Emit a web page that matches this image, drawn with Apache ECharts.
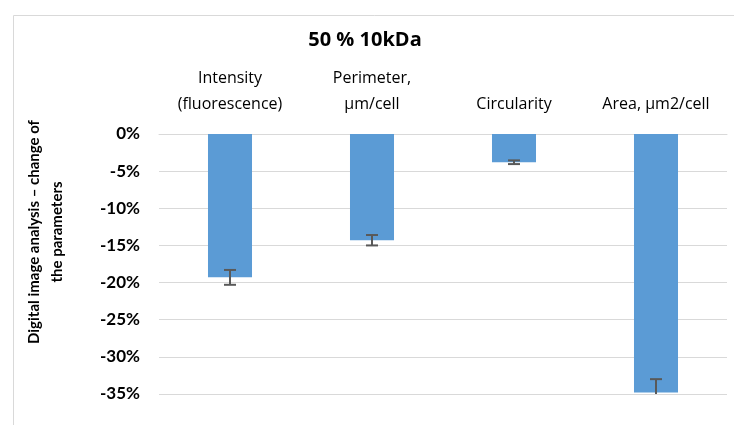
<!DOCTYPE html>
<html>
<head>
<meta charset="utf-8">
<script src="https://cdn.jsdelivr.net/npm/echarts@6/dist/echarts.min.js"></script>
<style>
  html, body { margin: 0; padding: 0; background: #fff; }
  #chart { width: 734px; height: 425px; }
</style>
</head>
<body>
<div id="chart"></div>
<script>
// categories and values (percent change)
var categories = ['Intensity\n(fluorescence)', 'Perimeter,\nµm/cell', 'Circularity', 'Area, µm2/cell'];
var changes = [-19.3, -14.3, -3.8, -34.8];
var errors = [1.0, 0.7, 0.25, 1.8];
var yTicks = { min: -35, max: 0, step: 5 };

var FONT = '"Open Sans", sans-serif';
var FONT_B = 'Lato, sans-serif';
var myChart = echarts.init(document.getElementById('chart'));

var errData = changes.map(function (v, i) { return [i, v - errors[i], v + errors[i]]; });

var option = {
    animation: false,
    title: {
        text: '50 % 10kDa',
        left: 360,
        top: 25,
        textAlign: 'center',
        textStyle: { fontFamily: FONT, fontSize: 20, fontWeight: 'bold', color: '#000' }
    },
    graphic: [{
        type: 'rect',
        shape: { x: 13.5, y: 15.5, width: 740, height: 430 },
        style: { fill: 'none', stroke: '#d9d9d9', lineWidth: 1 },
        silent: true
    }, {
        // y axis title, placed like the original
        type: 'text',
        x: 46, y: 232,
        rotation: Math.PI / 2,
        style: {
            text: 'Digital image analysis – change of\nthe parameters',
            font: 'bold 15px ' + FONT_B,
            fill: '#000',
            align: 'center',
            verticalAlign: 'middle',
            lineHeight: 23
        },
        silent: true
    }],
    grid: { left: 159, right: 7, top: 134, bottom: 31 },
    xAxis: {
        type: 'category',
        position: 'top',
        data: categories,
        axisLine: { show: true, lineStyle: { color: '#d9d9d9' } },
        axisTick: { show: false },
        axisLabel: {
            fontFamily: FONT, fontSize: 16, color: '#000',
            lineHeight: 26, margin: 17, interval: 0
        }
    },
    yAxis: {
        type: 'value',
        min: yTicks.min,
        max: yTicks.max,
        interval: yTicks.step,
        axisLine: { show: false },
        axisTick: { show: false },
        splitLine: { lineStyle: { color: '#d9d9d9' } },
        axisLabel: {
            fontFamily: FONT_B, fontSize: 17, fontWeight: 'bold', color: '#000', margin: 19,
            formatter: function (v) { return v + '%'; }
        }
    },
    series: [{
        type: 'bar',
        data: changes,
        barWidth: '31%',
        itemStyle: { color: '#5b9bd5' }
    }, {
        type: 'custom',
        data: errData,
        clip: true,
        z: 10,
        renderItem: function (params, api) {
            var i = api.value(0);
            var lo = api.coord([i, api.value(1)]);
            var hi = api.coord([i, api.value(2)]);
            var hw = 6;
            var st = { stroke: '#595959', lineWidth: 2 };
            return {
                type: 'group',
                children: [
                    { type: 'line', shape: { x1: lo[0], y1: lo[1], x2: hi[0], y2: hi[1] }, style: st },
                    { type: 'line', shape: { x1: lo[0] - hw, y1: lo[1], x2: lo[0] + hw, y2: lo[1] }, style: st },
                    { type: 'line', shape: { x1: hi[0] - hw, y1: hi[1], x2: hi[0] + hw, y2: hi[1] }, style: st }
                ]
            };
        }
    }]
};

myChart.setOption(option);
</script>
</body>
</html>
